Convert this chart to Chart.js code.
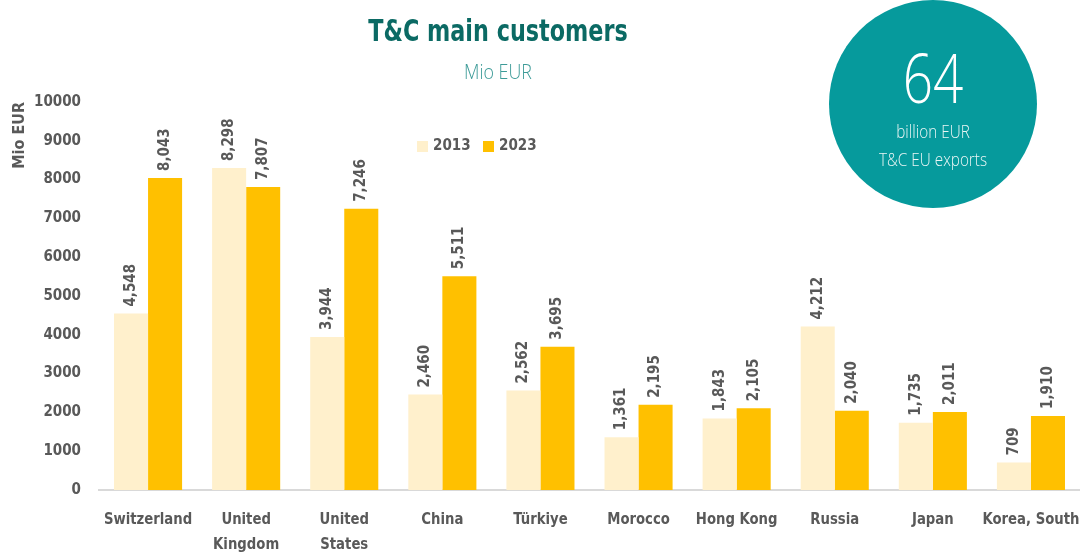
<!DOCTYPE html>
<html>
<head>
<meta charset="utf-8">
<script src="https://cdn.jsdelivr.net/npm/chart.js@4"></script>
<style>
  html, body { margin: 0; padding: 0; background: #fff; }
  #wrap { position: relative; width: 1080px; height: 554px; overflow: hidden; }
  #c { position: absolute; left: 0; top: 0; }
  .cond { font-family: 'Liberation Sans Narrow', 'DejaVu Sans Condensed', 'Open Sans', sans-serif; }
  #title { position: absolute; left: 298px; width: 400px; top: 12px; text-align: center;
    font-size: 31px; font-weight: bold; color: #0b6a64; transform: scaleX(0.8); }
  #sub { position: absolute; left: 398px; width: 200px; top: 57px; text-align: center;
    font-family: 'Open Sans', sans-serif; font-weight: 300;
    font-size: 21px; color: #3d9b98; transform: scaleX(0.85); }
  #circle { position: absolute; left: 829px; top: 0px; width: 208px; height: 208px;
    border-radius: 50%; background: #069a9c; color: #fff; text-align: center;
    font-family: 'Open Sans', sans-serif; }
  #big { position: absolute; left: 0; width: 208px; top: 30px; font-size: 68px; font-weight: 300;
    transform: scaleX(0.78); }
  #small { position: absolute; left: 0; width: 208px; top: 117px; font-size: 18px; line-height: 28px;
    font-weight: 300; color: #eaf6f5; transform: scaleX(0.85); }
</style>
</head>
<body>
<div id="wrap">
  <canvas id="c" width="1080" height="554"></canvas>
  <div id="title" class="cond">T&amp;C main customers</div>
  <div id="sub">Mio EUR</div>
  <div id="circle">
    <div id="big">64</div>
    <div id="small">billion EUR<br>T&amp;C EU exports</div>
  </div>
</div>
<script>
var countries = [
  "Switzerland",
  ["United", "Kingdom"],
  ["United", "States"],
  "China",
  "Türkiye",
  "Morocco",
  "Hong Kong",
  "Russia",
  "Japan",
  "Korea, South",
];
var values2013 = [4548, 8298, 3944, 2460, 2562, 1361, 1843, 4212, 1735, 709];
var values2023 = [8043, 7807, 7246, 5511, 3695, 2195, 2105, 2040, 2011, 1910];
var yTicks = [0, 1000, 2000, 3000, 4000, 5000, 6000, 7000, 8000, 9000, 10000];

var fontFam = "'Liberation Sans Narrow', 'DejaVu Sans Condensed', 'Open Sans', sans-serif";
var grey = "#595959";

// value labels, rotated above each bar
var barLabels = {
  id: "barLabels",
  afterDatasetsDraw: function (chart) {
    var ctx = chart.ctx;
    ctx.save();
    ctx.font = "bold 15px " + fontFam;
    ctx.fillStyle = grey;
    ctx.textAlign = "left";
    ctx.textBaseline = "middle";
    chart.data.datasets.forEach(function (ds, i) {
      chart.getDatasetMeta(i).data.forEach(function (bar, j) {
        ctx.save();
        ctx.translate(bar.x, bar.y - 7);
        ctx.rotate(-Math.PI / 2);
        ctx.fillText(ds.data[j].toLocaleString("en-US"), 0, 0);
        ctx.restore();
      });
    });
    ctx.restore();
  },
};

// category names, a bit condensed so "Korea, South" fits
var xLabels = {
  id: "xLabels",
  afterDraw: function (chart) {
    var ctx = chart.ctx;
    var xs = chart.scales.x;
    ctx.save();
    ctx.font = "bold 16px " + fontFam;
    ctx.fillStyle = grey;
    ctx.textAlign = "center";
    ctx.textBaseline = "middle";
    chart.data.labels.forEach(function (lab, i) {
      var lines = Array.isArray(lab) ? lab : [lab];
      var x = xs.getPixelForTick(i);
      lines.forEach(function (line, k) {
        ctx.save();
        ctx.translate(x, xs.top + 30 + k * 25);
        ctx.scale(0.92, 1);
        ctx.fillText(line, 0, 0);
        ctx.restore();
      });
    });
    ctx.restore();
  },
};

// small legend placed inside the plot
var miniLegend = {
  id: "miniLegend",
  afterDraw: function (chart) {
    var ctx = chart.ctx;
    ctx.save();
    ctx.font = "bold 15px " + fontFam;
    ctx.textBaseline = "middle";
    var x = 417;
    var y = 146;
    chart.data.datasets.forEach(function (ds) {
      ctx.fillStyle = ds.backgroundColor;
      ctx.fillRect(x, y - 5, 11, 11);
      ctx.fillStyle = grey;
      ctx.fillText(ds.label, x + 16, y);
      x += 66;
    });
    ctx.restore();
  },
};

var config = {
  type: "bar",
  data: {
    labels: countries,
    datasets: [
      {
        label: "2013",
        data: values2013,
        backgroundColor: "#fff0cc",
      },
      {
        label: "2023",
        data: values2023,
        backgroundColor: "#ffc000",
      },
    ],
  },
  options: {
    responsive: false,
    animation: false,
    layout: { padding: { top: 102, right: 0, left: 0, bottom: 0 } },
    datasets: {
      bar: { categoryPercentage: 0.694, barPercentage: 1.0 },
    },
    plugins: {
      legend: { display: false },
      tooltip: { enabled: false },
    },
    scales: {
      x: {
        grid: { display: false, drawTicks: false },
        border: { color: "#d9d9d9", width: 2 },
        ticks: { display: false },
        afterFit: function (scale) {
          scale.height = 64;
          scale.paddingLeft = 0;
          scale.paddingRight = 0;
        },
      },
      y: {
        min: 0,
        max: 10000,
        afterBuildTicks: function (scale) {
          scale.ticks = yTicks.map(function (v) { return { value: v }; });
        },
        grid: { display: false, drawTicks: false },
        border: { display: false },
        ticks: {
          color: grey,
          font: { family: fontFam, size: 15, weight: "bold" },
          padding: 18,
          callback: function (v) { return String(v); },
        },
        title: {
          display: true,
          text: "Mio EUR",
          align: "end",
          color: grey,
          font: { family: fontFam, size: 16, weight: "bold" },
          padding: { top: 10, bottom: 0 },
        },
        afterFit: function (scale) {
          scale.width = 99;
        },
      },
    },
  },
  plugins: [barLabels, xLabels, miniLegend],
};

var ctxOne = document.getElementById("c").getContext("2d");
new Chart(ctxOne, config);
</script>
</body>
</html>
